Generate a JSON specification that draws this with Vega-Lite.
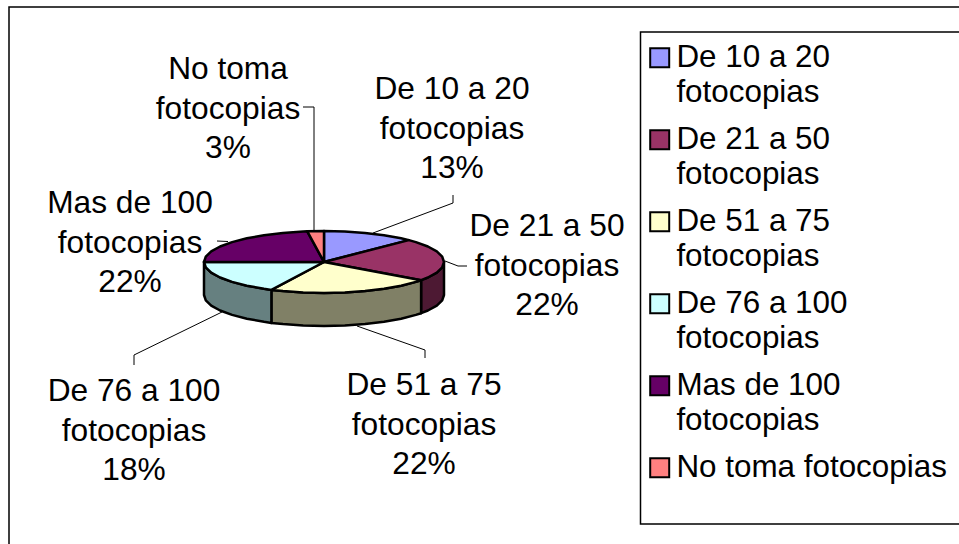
{"$schema":"https://vega.github.io/schema/vega-lite/v6.json","width":959,"height":544,"padding":0,"autosize":"none","background":"white","config":{"view":{"stroke":null},"font":"Liberation Sans"},
"datasets":{
"boxes":[{"x":9,"y":7,"x2":985,"y2":570},{"x":640.5,"y":32,"x2":985,"y2":524}],
"walls":[
{"s":"De 21 a 50 fotocopias","o":1,"x":444,"y":262},{"s":"De 21 a 50 fotocopias","o":2,"x":442.2,"y":267.4},{"s":"De 21 a 50 fotocopias","o":3,"x":436.8,"y":272.6},{"s":"De 21 a 50 fotocopias","o":4,"x":427.9,"y":277.5},{"s":"De 21 a 50 fotocopias","o":5,"x":421.1,"y":280.2},{"s":"De 21 a 50 fotocopias","o":6,"x":421.1,"y":313.2},{"s":"De 21 a 50 fotocopias","o":7,"x":427.9,"y":310.5},{"s":"De 21 a 50 fotocopias","o":8,"x":436.8,"y":305.6},{"s":"De 21 a 50 fotocopias","o":9,"x":442.2,"y":300.4},{"s":"De 21 a 50 fotocopias","o":10,"x":444,"y":295},{"s":"De 21 a 50 fotocopias","o":11,"x":444,"y":262},
{"s":"De 51 a 75 fotocopias","o":1,"x":421.1,"y":280.2},{"s":"De 51 a 75 fotocopias","o":2,"x":415.9,"y":281.9},{"s":"De 51 a 75 fotocopias","o":3,"x":401.1,"y":285.7},{"s":"De 51 a 75 fotocopias","o":4,"x":384,"y":288.8},{"s":"De 51 a 75 fotocopias","o":5,"x":365,"y":291.1},{"s":"De 51 a 75 fotocopias","o":6,"x":344.8,"y":292.5},{"s":"De 51 a 75 fotocopias","o":7,"x":324,"y":293},{"s":"De 51 a 75 fotocopias","o":8,"x":303.2,"y":292.5},{"s":"De 51 a 75 fotocopias","o":9,"x":283,"y":291.1},{"s":"De 51 a 75 fotocopias","o":10,"x":271.4,"y":289.9},{"s":"De 51 a 75 fotocopias","o":11,"x":271.4,"y":322.9},{"s":"De 51 a 75 fotocopias","o":12,"x":283,"y":324.1},{"s":"De 51 a 75 fotocopias","o":13,"x":303.2,"y":325.5},{"s":"De 51 a 75 fotocopias","o":14,"x":324,"y":326},{"s":"De 51 a 75 fotocopias","o":15,"x":344.8,"y":325.5},{"s":"De 51 a 75 fotocopias","o":16,"x":365,"y":324.1},{"s":"De 51 a 75 fotocopias","o":17,"x":384,"y":321.8},{"s":"De 51 a 75 fotocopias","o":18,"x":401.1,"y":318.7},{"s":"De 51 a 75 fotocopias","o":19,"x":415.9,"y":314.9},{"s":"De 51 a 75 fotocopias","o":20,"x":421.1,"y":313.2},{"s":"De 51 a 75 fotocopias","o":21,"x":421.1,"y":280.2},
{"s":"De 76 a 100 fotocopias","o":1,"x":271.4,"y":289.9},{"s":"De 76 a 100 fotocopias","o":2,"x":264,"y":288.8},{"s":"De 76 a 100 fotocopias","o":3,"x":246.9,"y":285.7},{"s":"De 76 a 100 fotocopias","o":4,"x":232.1,"y":281.9},{"s":"De 76 a 100 fotocopias","o":5,"x":220.1,"y":277.5},{"s":"De 76 a 100 fotocopias","o":6,"x":211.2,"y":272.6},{"s":"De 76 a 100 fotocopias","o":7,"x":205.8,"y":267.4},{"s":"De 76 a 100 fotocopias","o":8,"x":204,"y":262},{"s":"De 76 a 100 fotocopias","o":9,"x":204,"y":295},{"s":"De 76 a 100 fotocopias","o":10,"x":205.8,"y":300.4},{"s":"De 76 a 100 fotocopias","o":11,"x":211.2,"y":305.6},{"s":"De 76 a 100 fotocopias","o":12,"x":220.1,"y":310.5},{"s":"De 76 a 100 fotocopias","o":13,"x":232.1,"y":314.9},{"s":"De 76 a 100 fotocopias","o":14,"x":246.9,"y":318.7},{"s":"De 76 a 100 fotocopias","o":15,"x":264,"y":321.8},{"s":"De 76 a 100 fotocopias","o":16,"x":271.4,"y":322.9},{"s":"De 76 a 100 fotocopias","o":17,"x":271.4,"y":289.9}
],
"tops":[
{"s":"De 10 a 20 fotocopias","o":1,"x":324,"y":262},{"s":"De 10 a 20 fotocopias","o":2,"x":324,"y":231},{"s":"De 10 a 20 fotocopias","o":3,"x":344.8,"y":231.5},{"s":"De 10 a 20 fotocopias","o":4,"x":365,"y":232.9},{"s":"De 10 a 20 fotocopias","o":5,"x":384,"y":235.2},{"s":"De 10 a 20 fotocopias","o":6,"x":401.1,"y":238.3},{"s":"De 10 a 20 fotocopias","o":7,"x":408.9,"y":240.1},{"s":"De 10 a 20 fotocopias","o":8,"x":324,"y":262},
{"s":"De 21 a 50 fotocopias","o":1,"x":324,"y":262},{"s":"De 21 a 50 fotocopias","o":2,"x":408.9,"y":240.1},{"s":"De 21 a 50 fotocopias","o":3,"x":415.9,"y":242.1},{"s":"De 21 a 50 fotocopias","o":4,"x":427.9,"y":246.5},{"s":"De 21 a 50 fotocopias","o":5,"x":436.8,"y":251.4},{"s":"De 21 a 50 fotocopias","o":6,"x":442.2,"y":256.6},{"s":"De 21 a 50 fotocopias","o":7,"x":444,"y":262},{"s":"De 21 a 50 fotocopias","o":8,"x":442.2,"y":267.4},{"s":"De 21 a 50 fotocopias","o":9,"x":436.8,"y":272.6},{"s":"De 21 a 50 fotocopias","o":10,"x":427.9,"y":277.5},{"s":"De 21 a 50 fotocopias","o":11,"x":421.1,"y":280.2},{"s":"De 21 a 50 fotocopias","o":12,"x":324,"y":262},
{"s":"De 51 a 75 fotocopias","o":1,"x":324,"y":262},{"s":"De 51 a 75 fotocopias","o":2,"x":421.1,"y":280.2},{"s":"De 51 a 75 fotocopias","o":3,"x":415.9,"y":281.9},{"s":"De 51 a 75 fotocopias","o":4,"x":401.1,"y":285.7},{"s":"De 51 a 75 fotocopias","o":5,"x":384,"y":288.8},{"s":"De 51 a 75 fotocopias","o":6,"x":365,"y":291.1},{"s":"De 51 a 75 fotocopias","o":7,"x":344.8,"y":292.5},{"s":"De 51 a 75 fotocopias","o":8,"x":324,"y":293},{"s":"De 51 a 75 fotocopias","o":9,"x":303.2,"y":292.5},{"s":"De 51 a 75 fotocopias","o":10,"x":283,"y":291.1},{"s":"De 51 a 75 fotocopias","o":11,"x":271.4,"y":289.9},{"s":"De 51 a 75 fotocopias","o":12,"x":324,"y":262},
{"s":"De 76 a 100 fotocopias","o":1,"x":324,"y":262},{"s":"De 76 a 100 fotocopias","o":2,"x":271.4,"y":289.9},{"s":"De 76 a 100 fotocopias","o":3,"x":264,"y":288.8},{"s":"De 76 a 100 fotocopias","o":4,"x":246.9,"y":285.7},{"s":"De 76 a 100 fotocopias","o":5,"x":232.1,"y":281.9},{"s":"De 76 a 100 fotocopias","o":6,"x":220.1,"y":277.5},{"s":"De 76 a 100 fotocopias","o":7,"x":211.2,"y":272.6},{"s":"De 76 a 100 fotocopias","o":8,"x":205.8,"y":267.4},{"s":"De 76 a 100 fotocopias","o":9,"x":204,"y":262},{"s":"De 76 a 100 fotocopias","o":10,"x":324,"y":262},
{"s":"Mas de 100 fotocopias","o":1,"x":324,"y":262},{"s":"Mas de 100 fotocopias","o":2,"x":204,"y":262},{"s":"Mas de 100 fotocopias","o":3,"x":205.8,"y":256.6},{"s":"Mas de 100 fotocopias","o":4,"x":211.2,"y":251.4},{"s":"Mas de 100 fotocopias","o":5,"x":220.1,"y":246.5},{"s":"Mas de 100 fotocopias","o":6,"x":232.1,"y":242.1},{"s":"Mas de 100 fotocopias","o":7,"x":246.9,"y":238.3},{"s":"Mas de 100 fotocopias","o":8,"x":264,"y":235.2},{"s":"Mas de 100 fotocopias","o":9,"x":283,"y":232.9},{"s":"Mas de 100 fotocopias","o":10,"x":303.2,"y":231.5},{"s":"Mas de 100 fotocopias","o":11,"x":307.3,"y":231.3},{"s":"Mas de 100 fotocopias","o":12,"x":324,"y":262},
{"s":"No toma fotocopias","o":1,"x":324,"y":262},{"s":"No toma fotocopias","o":2,"x":307.3,"y":231.3},{"s":"No toma fotocopias","o":3,"x":324,"y":231},{"s":"No toma fotocopias","o":4,"x":324,"y":262}
],
"leaders":[
{"s":"a","o":1,"x":303,"y":107},{"s":"a","o":2,"x":314,"y":107},{"s":"a","o":3,"x":314,"y":231},
{"s":"b","o":1,"x":373,"y":233},{"s":"b","o":2,"x":453,"y":203},{"s":"b","o":3,"x":453,"y":195},
{"s":"c","o":1,"x":445,"y":261},{"s":"c","o":2,"x":458,"y":266},{"s":"c","o":3,"x":467,"y":266},
{"s":"d","o":1,"x":357,"y":326},{"s":"d","o":2,"x":425,"y":350},{"s":"d","o":3,"x":425,"y":358},
{"s":"e","o":1,"x":222,"y":312},{"s":"e","o":2,"x":134,"y":355},{"s":"e","o":3,"x":134,"y":365},
{"s":"f","o":1,"x":217,"y":241},{"s":"f","o":2,"x":228,"y":241.5}
],
"labels":[
{"t":"No toma\nfotocopias\n3%","x":228,"y":79},
{"t":"De 10 a 20\nfotocopias\n13%","x":452,"y":99},
{"t":"De 21 a 50\nfotocopias\n22%","x":547,"y":236},
{"t":"De 51 a 75\nfotocopias\n22%","x":424,"y":395},
{"t":"De 76 a 100\nfotocopias\n18%","x":134,"y":401},
{"t":"Mas de 100\nfotocopias\n22%","x":130,"y":213}
]},
"layer":[
{"data":{"name":"boxes"},"mark":{"type":"rect","fillOpacity":0,"stroke":"black","strokeWidth":1.5,"clip":true},"encoding":{"x":{"field":"x","type":"quantitative","scale":{"domain":[0,959],"nice":false,"zero":false},"axis":null},"x2":{"field":"x2"},"y":{"field":"y","type":"quantitative","scale":{"domain":[544,0],"nice":false,"zero":false},"axis":null},"y2":{"field":"y2"}}},
{"data":{"name":"leaders"},"mark":{"type":"line","stroke":"black","strokeWidth":1},"encoding":{"x":{"field":"x","type":"quantitative","axis":null},"y":{"field":"y","type":"quantitative","axis":null},"detail":{"field":"s"},"order":{"field":"o"}}},
{"data":{"name":"walls"},"mark":{"type":"line","filled":true,"stroke":"black","strokeWidth":2.5,"strokeJoin":"round"},"encoding":{"x":{"field":"x","type":"quantitative","axis":null},"y":{"field":"y","type":"quantitative","axis":null},"order":{"field":"o"},"fill":{"field":"s","type":"nominal","legend":null,"scale":{"domain":["De 21 a 50 fotocopias","De 51 a 75 fotocopias","De 76 a 100 fotocopias"],"range":["#4D1933","#808066","#668080"]}}}},
{"data":{"name":"tops"},"mark":{"type":"line","filled":true,"stroke":"black","strokeWidth":2.5,"strokeJoin":"round"},"encoding":{"x":{"field":"x","type":"quantitative","axis":null},"y":{"field":"y","type":"quantitative","axis":null},"order":{"field":"o"},"fill":{"field":"s","type":"nominal","sort":null,"scale":{"domain":["De 10 a 20 fotocopias","De 21 a 50 fotocopias","De 51 a 75 fotocopias","De 76 a 100 fotocopias","Mas de 100 fotocopias","No toma fotocopias"],"range":["#9999FF","#993366","#FFFFCC","#CCFFFF","#660066","#FF8080"]},"legend":{"orient":"none","legendX":644,"legendY":42,"title":null,"columns":1,"symbolType":"square","symbolSize":361,"symbolStrokeColor":"black","symbolStrokeWidth":2,"symbolOpacity":1,"labelFont":"Liberation Sans","labelFontSize":31.4,"labelColor":"black","labelLimit":400,"labelOffset":1,"rowPadding":14,"labelExpr":"indexof(datum.label,'No toma')==0 ? datum.label : [slice(datum.label,0,-11),'fotocopias']","encoding":{"labels":{"lineHeight":{"value":35}}}}}}},
{"data":{"name":"labels"},"mark":{"type":"text","align":"center","baseline":"alphabetic","lineBreak":"\n","lineHeight":39.5,"fontSize":31.7,"font":"Liberation Sans","color":"black"},"encoding":{"x":{"field":"x","type":"quantitative","axis":null},"y":{"field":"y","type":"quantitative","axis":null},"text":{"field":"t"}}}
],
"resolve":{"scale":{"fill":"independent"}}}
